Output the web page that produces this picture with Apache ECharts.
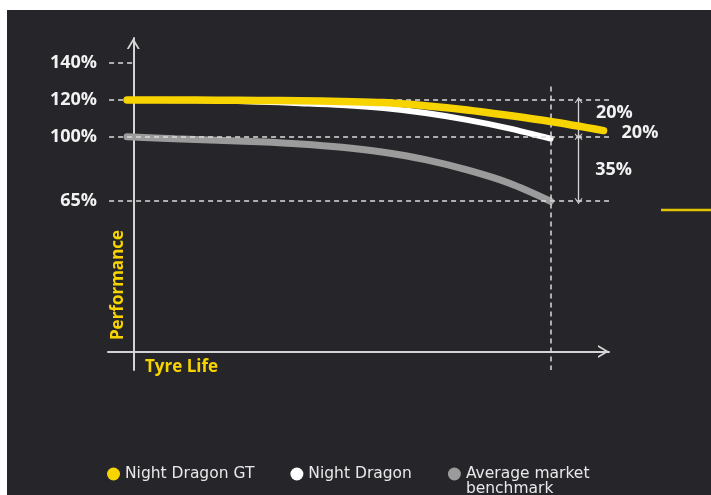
<!DOCTYPE html>
<html><head><meta charset="utf-8">
<script src="https://cdn.jsdelivr.net/npm/echarts@6/dist/echarts.min.js"></script>
<style>
html,body{margin:0;padding:0;background:#fff;width:711px;height:495px;overflow:hidden}
#c{position:absolute;left:7px;top:10px;width:704px;height:485px}
</style></head><body><div id="c"></div>
<script>
// ---- data ----
const tyreLife      = [-1.5, 10, 20, 30, 40, 50, 60, 70, 80, 90, 100, 112.7];
const nightDragonGT = [120, 120, 119.9, 119.8, 119.6, 119.2, 118.6, 116.9, 114.6, 111.6, 108.3, 103.4];
const nightDragon   = [120, 119.9, 119.7, 119.1, 118.3, 117.3, 115.6, 112.9, 109.2, 104.6, 99, null];
const marketAvg     = [100, 99.0, 98.2, 97.3, 96.1, 94.3, 91.6, 87.6, 82.0, 74.9, 65, null];
const tickValues    = [65, 100, 120, 140];
const seriesNames   = ['Night Dragon GT', 'Night Dragon', 'Average market\nbenchmark'];
const gapRanges     = [[120, 100], [100, 65]];
const gapLabels     = ['20%', '35%'];
const gtGapLabel    = '20%';

const FONT = 'Open Sans';
const YELLOW = '#f7d400';
const pairs = arr => tyreLife.map((x, i) => [x, arr[i]]).filter(p => p[1] != null);
const chevron = 'path://M0,11 L6.5,0 L13,11 L11,11 L6.5,3.4 L2,11 Z';
const dash = { color: '#dcdcdc', type: [5, 4], width: 1.5 };
const SMOOTH = 0.33;

const chart = echarts.init(document.getElementById('c'));
chart.setOption({
  backgroundColor: '#26252a',
  animation: false,
  grid: { left: 101, right: 102, top: 28, bottom: 125, containLabel: false },
  xAxis: {
    type: 'value', min: -6.06, max: 114, offset: -18.5,
    axisLine: { show: true, onZero: false, symbol: ['none', chevron], symbolSize: [13, 11], symbolOffset: [0, -5.5],
      lineStyle: { color: '#d4d4d4', width: 2 } },
    axisTick: { show: false }, axisLabel: { show: false }, splitLine: { show: false }
  },
  yAxis: {
    type: 'value', min: -26.7, max: 153.7,
    axisLine: { show: true, onZero: true, symbol: ['none', chevron], symbolSize: [13, 11], symbolOffset: [0, -5.5],
      lineStyle: { color: '#d4d4d4', width: 2 } },
    axisTick: { show: false }, splitLine: { show: false },
    axisLabel: { customValues: tickValues, formatter: '{value}%', margin: 11, color: '#f2f2f2',
      fontSize: 18, fontWeight: 'bold', fontFamily: FONT }
  },
  title: [{ text: 'Tyre Life', left: 138, top: 349, padding: 0,
    textStyle: { color: YELLOW, fontSize: 17, fontWeight: 'bold', fontFamily: FONT } }],
  graphic: [
    { type: 'text', x: 111, y: 275, rotation: Math.PI / 2,
      style: { text: 'Performance', fill: YELLOW, font: 'bold 17px "Open Sans"', align: 'center', verticalAlign: 'middle' } },
    { type: 'line', shape: { x1: 654, y1: 200, x2: 704, y2: 200 }, style: { stroke: '#e3c400', lineWidth: 2.5 } }
  ],
  legend: {
    left: 95, top: 436, icon: 'circle', itemWidth: 13, itemHeight: 13, itemGap: 36,
    textStyle: { color: '#e8e8e8', fontSize: 15.5, fontFamily: 'DejaVu Sans', lineHeight: 15 },
    formatter: name => (name === seriesNames[2] ? '\n' + name : name),
    data: seriesNames.map(n => ({ name: n }))
  },
  series: [
    { type: 'line', name: 'guides', data: [], z: 1, silent: true,
      markLine: { silent: true, symbol: ['none', 'none'], label: { show: false }, lineStyle: dash,
        data: [
          [{ coord: [-5.8, 140] }, { coord: [0, 140] }],
          [{ coord: [-5.8, 120] }, { coord: [114, 120] }],
          [{ coord: [-5.8, 100] }, { coord: [114, 100] }],
          [{ coord: [-5.8, 65] }, { coord: [114, 65] }],
          [{ coord: [100, 127.3] }, { coord: [100, -26.7] }]
        ] } },
    { type: 'line', name: 'brackets', data: [], z: 1, silent: true,
      markLine: { silent: true, symbol: [chevron, chevron], symbolSize: [8, 6], label: { show: false },
        lineStyle: { color: '#d4d4d4', type: 'solid', width: 1.3 },
        data: gapRanges.map(r => [{ coord: [106.7, r[0]] }, { coord: [106.7, r[1]] }]) } },
    { type: 'line', name: seriesNames[2], data: pairs(marketAvg), smooth: SMOOTH, showSymbol: false, symbol: 'none',
      color: '#9b9b9b', lineStyle: { color: '#9b9b9b', width: 7, cap: 'round' }, z: 3 },
    { type: 'line', name: seriesNames[1], data: pairs(nightDragon), smooth: SMOOTH, showSymbol: false, symbol: 'none',
      color: '#ffffff', lineStyle: { color: '#ffffff', width: 6, cap: 'round' }, z: 4 },
    { type: 'line', name: seriesNames[0], data: pairs(nightDragonGT), smooth: SMOOTH, showSymbol: false, symbol: 'none',
      color: YELLOW, lineStyle: { color: YELLOW, width: 7.5, cap: 'round' }, z: 5,
      endLabel: { show: true, formatter: gtGapLabel, distance: 18, offset: [0, 2], color: '#f2f2f2', fontSize: 18,
        fontWeight: 'bold', fontFamily: FONT } },
    { type: 'scatter', name: 'gapText', symbolSize: 0, clip: false, silent: true, z: 6,
      itemStyle: { opacity: 1 },
      data: [[115.3, 113.2], [115.1, 82]],
      label: { show: true, position: 'inside', formatter: p => gapLabels[p.dataIndex], color: '#f2f2f2',
        textBorderWidth: 0, textBorderColor: 'transparent',
        fontSize: 18, fontWeight: 'bold', fontFamily: FONT } }
  ]
});
</script></body></html>
